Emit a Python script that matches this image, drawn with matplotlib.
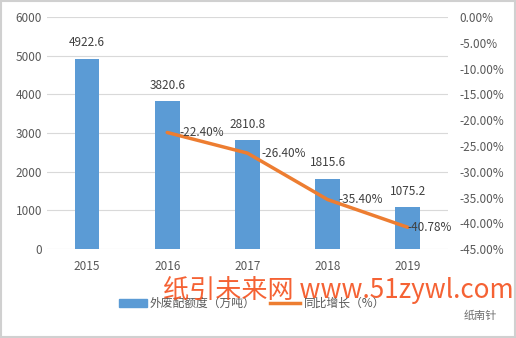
import numpy as np
import matplotlib
matplotlib.use("Agg")
from matplotlib import pyplot as plt
from matplotlib.patches import Rectangle

plt.rcParams["font.family"] = ["Noto Sans CJK SC", "DejaVu Sans"]

years = ["2015", "2016", "2017", "2018", "2019"]
quota = [4922.6, 3820.6, 2810.8, 1815.6, 1075.2]
growth_years = ["2016", "2017", "2018", "2019"]
growth = [-22.40, -26.40, -35.40, -40.78]

BLUE = "#5B9BD5"
ORANGE = "#ED7D31"
GRAY = "#595959"

fig = plt.figure(figsize=(5.16, 3.38), dpi=100)
ax = fig.add_axes([0.091, 0.263, 0.777, 0.687])
x = np.arange(len(years))

ax.bar(x, quota, width=0.31, color=BLUE, zorder=2)
for xi, v in zip(x, quota):
    ax.annotate(f"{v}", (xi, v), xytext=(0, 7), textcoords="offset points",
                ha="center", va="bottom", fontsize=8.5, color="#404040")

ax.set_xlim(-0.5, len(years) - 0.5)
ax.set_ylim(0, 6000)
ax.set_yticks(range(0, 6001, 1000))
ax.set_xticks(x)
ax.set_xticklabels(years)
ax.grid(axis="y", color="#D9D9D9", linewidth=0.8, zorder=0)
for s in ax.spines.values():
    s.set_visible(False)
ax.tick_params(length=0, labelsize=8.5, labelcolor=GRAY)
ax.tick_params(axis="x", pad=8)

ax2 = ax.twinx()
gx = [years.index(y) for y in growth_years]
ax2.plot(gx, growth, color=ORANGE, linewidth=2.5, solid_capstyle="round", zorder=3)
offsets = [9, 10, 8, 0]
for xi, v, dx in zip(gx, growth, offsets):
    ax2.annotate(f"{v:.2f}%", (xi, v), xytext=(dx, 0), textcoords="offset points",
                 ha="left", va="center", fontsize=8.5, color="#404040")
ax2.set_ylim(-45, 0)
ax2.set_yticks(np.arange(-45, 1, 5))
ax2.set_yticklabels([f"{t:.2f}%" for t in np.arange(-45, 1, 5)])
for s in ax2.spines.values():
    s.set_visible(False)
ax2.tick_params(length=0, labelsize=8.5, labelcolor=GRAY, pad=8)

# legend drawn by hand in figure coordinates
fig.patches.append(Rectangle((119 / 516, 1 - 307 / 338), 28 / 516, 8 / 338,
                             transform=fig.transFigure, color=BLUE))
fig.text(150 / 516, 1 - 303 / 338, "外废配额度（万吨）", fontsize=8.5,
         color=GRAY, va="center")
fig.add_artist(plt.Line2D([270 / 516, 300 / 516], [1 - 303 / 338] * 2,
                          transform=fig.transFigure, color=ORANGE, linewidth=2.5))
fig.text(304 / 516, 1 - 303 / 338, "同比增长（%）", fontsize=8.5,
         color=GRAY, va="center")

fig.text(163 / 516, 1 - 290 / 338, "纸引未来网 www.51zywl.com", fontsize=18.8,
         color="#F4511E", va="center", alpha=0.9)
fig.text(464 / 516, 1 - 316 / 338, "纸南针", fontsize=8, color="#6E6E6E", va="center")

fig.patches.append(Rectangle((0.002, 0.003), 0.996, 0.994, transform=fig.transFigure,
                             fill=False, edgecolor="#D0D0D0", linewidth=1.5))

fig.savefig("out.png", dpi=100)
